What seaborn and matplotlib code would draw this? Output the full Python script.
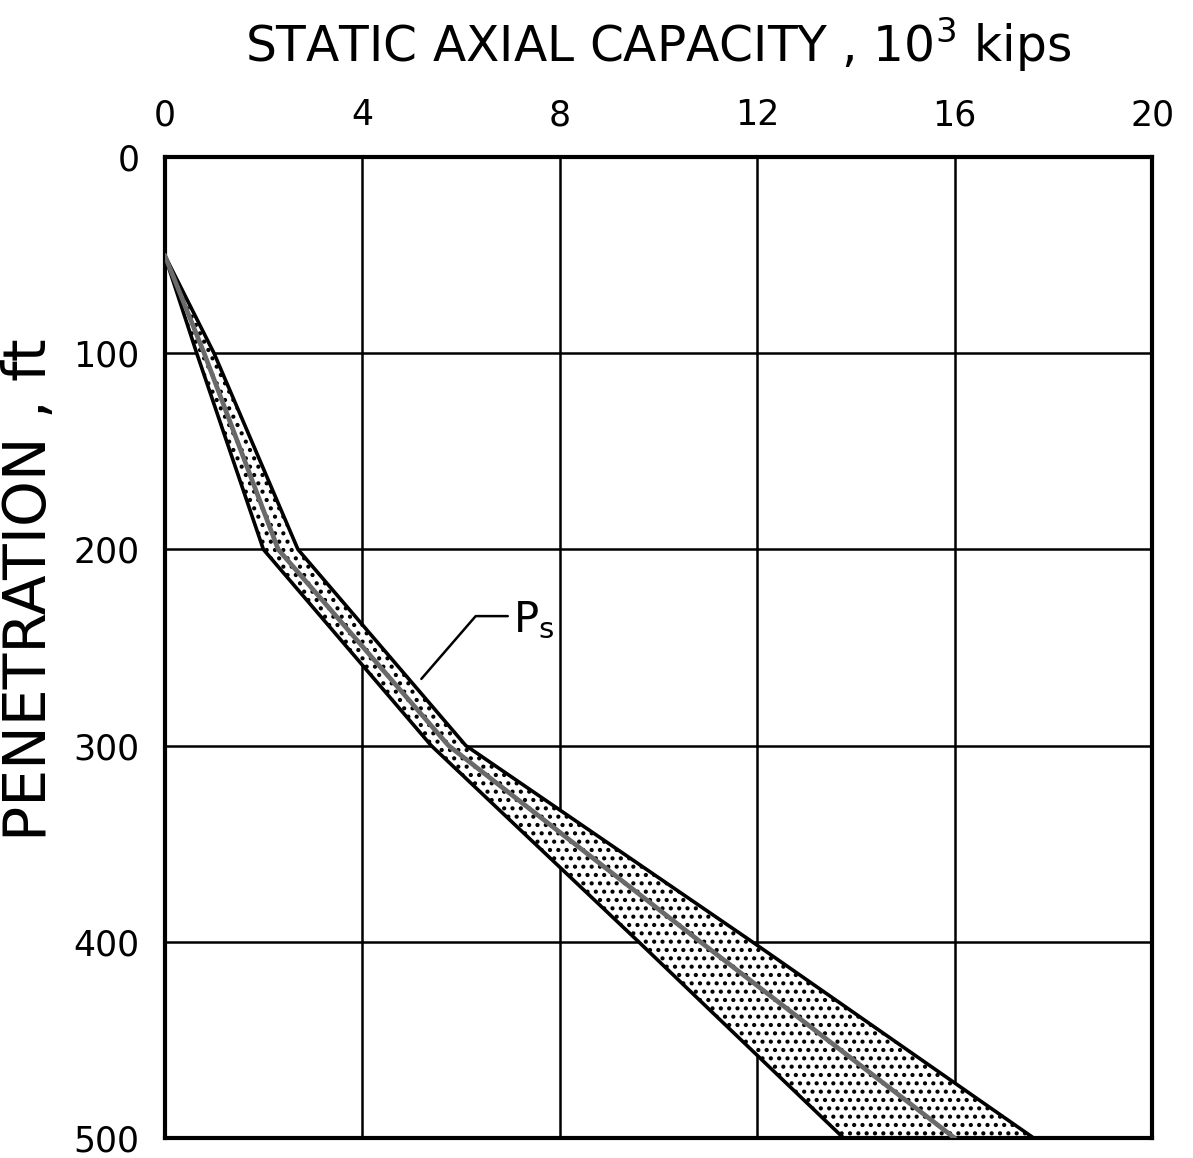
import matplotlib
matplotlib.use("Agg")
import matplotlib.pyplot as plt
import seaborn as sns
import pandas as pd

# ---- data ----
depth_ft = [50, 100, 200, 300, 400, 500]
lower_kips = [0.0, 0.65, 2.0, 5.4, 9.6, 13.75]     # left boundary of band (10^3 kips)
upper_kips = [0.0, 1.0, 2.7, 6.1, 11.9, 17.6]      # right boundary of band
ps_kips = [0.0, 0.8, 2.3, 5.75, 10.85, 16.0]       # P_s centre curve

x_ticks = [0, 4, 8, 12, 16, 20]
y_ticks = [0, 100, 200, 300, 400, 500]

df = pd.DataFrame({"depth": depth_ft, "lower": lower_kips,
                   "upper": upper_kips, "ps": ps_kips})

sns.set_theme(style="white")
plt.rcParams["font.family"] = ["DejaVu Sans"]
plt.rcParams["hatch.linewidth"] = 1.8
plt.rcParams["hatch.color"] = "black"
plt.rcParams["text.color"] = "black"
plt.rcParams["axes.labelcolor"] = "black"
plt.rcParams["xtick.color"] = "black"
plt.rcParams["ytick.color"] = "black"

fig = plt.figure(figsize=(11.93, 11.58), dpi=100)
ax = fig.add_axes([0.138, 0.0173, 0.8277, 0.8471])

# gridlines
ax.set_xlim(0, 20)
ax.set_ylim(500, 0)
ax.set_xticks(x_ticks)
ax.set_yticks(y_ticks)
ax.grid(True, color="black", linewidth=1.8)
ax.set_axisbelow(True)

# stippled band
ax.fill_betweenx(df["depth"], df["lower"], df["upper"], facecolor="white",
                 edgecolor="black", hatch="..", linewidth=0, zorder=2)

sns.lineplot(data=df, x="lower", y="depth", sort=False, color="black",
             linewidth=2.6, ax=ax, zorder=3)
sns.lineplot(data=df, x="upper", y="depth", sort=False, color="black",
             linewidth=2.6, ax=ax, zorder=3)
sns.lineplot(data=df, x="ps", y="depth", sort=False, color="#6a6a6a",
             linewidth=3.4, ax=ax, zorder=4)

# P_s annotation leader
ax.plot([5.2, 6.3, 6.95], [266, 234, 234], color="black", linewidth=1.8, zorder=5)
ax.text(7.05, 236, r"P$_\mathregular{s}$", fontsize=30, va="center", ha="left",
        zorder=5)

# axes styling
ax.xaxis.tick_top()
ax.xaxis.set_label_position("top")
ax.tick_params(axis="x", length=0, pad=18, labelsize=25)
ax.tick_params(axis="y", length=0, pad=18, labelsize=25)
for s in ax.spines.values():
    s.set_color("black")
    s.set_linewidth(3)

ax.set_xlabel("STATIC AXIAL CAPACITY , 10$^3$ kips", fontsize=35, labelpad=26)
ax.set_ylabel("PENETRATION , ft", fontsize=42)
ax.yaxis.set_label_coords(-0.108, 0.559)

fig.savefig("out.png", dpi=100)
